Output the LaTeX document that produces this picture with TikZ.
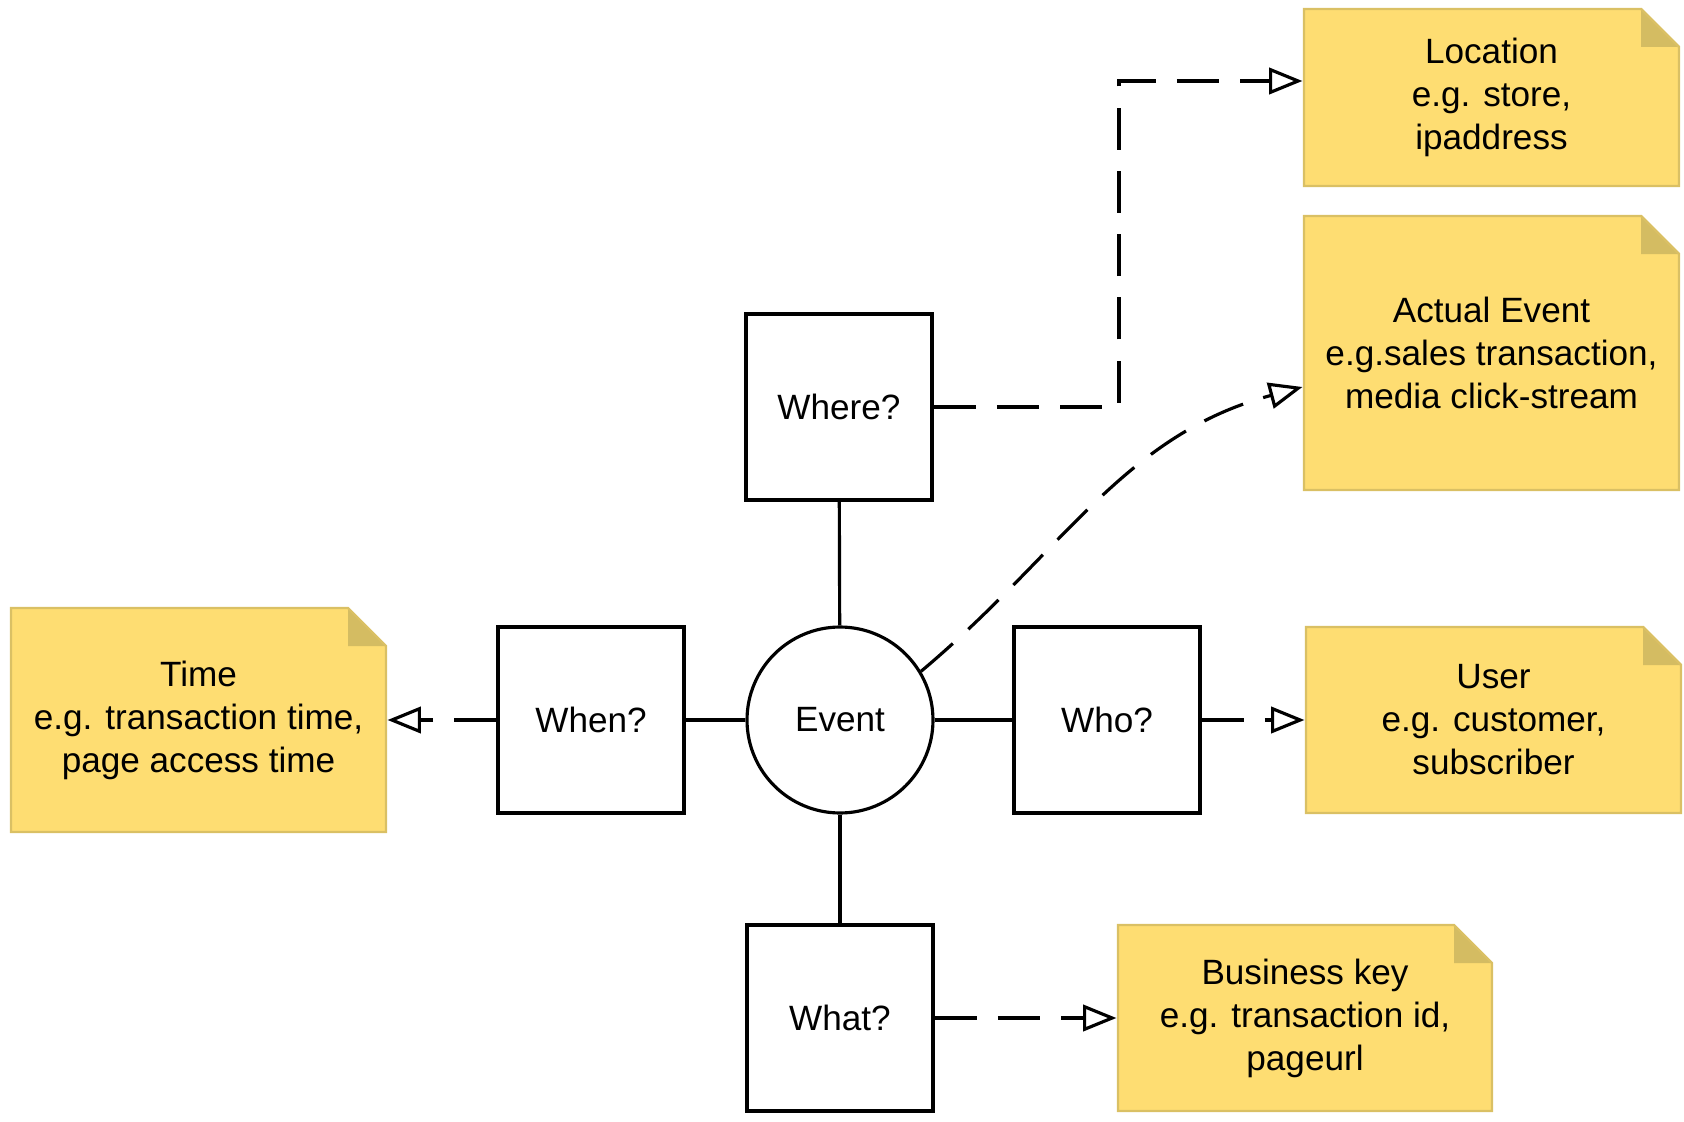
\documentclass[tikz,border=0pt]{standalone}
\usepackage{fontspec}
\setmainfont{Liberation Sans}
\usetikzlibrary{arrows.meta}
\definecolor{notefill}{RGB}{254,221,114}
\definecolor{noteedge}{RGB}{218,192,100}
\definecolor{notefold}{RGB}{212,188,98}
% note: name, x1, y1, x2, y2, text
\newcommand{\notebox}[6]{%
  \fill[notefill] (#2,#3) -- ({#4-38},#3) -- (#4,{#3+38}) -- (#4,#5) -- (#2,#5) -- cycle;
  \fill[notefold] ({#4-38},#3) -- ({#4-38},{#3+38}) -- (#4,{#3+38}) -- cycle;
  \draw[noteedge, line width=1.4pt] (#2,#3) -- ({#4-38},#3) -- (#4,{#3+38}) -- (#4,#5) -- (#2,#5) -- cycle;
  \node[notetext, minimum width={(#4-#2)*0.02cm}, minimum height={(#5-#3)*0.02cm}]
    (#1) at ({(#2+#4)/2},{(#3+#5)/2}) {#6};
}
\begin{document}
\begin{tikzpicture}[x=0.02cm, y=-0.02cm, line width=1.8pt,
    font=\fontsize{20pt}{24.5pt}\selectfont,
    box/.style={draw, minimum size=3.72cm, inner sep=0pt},
    notetext/.style={inner sep=0pt, align=center},
    link/.style={dash pattern=on 24pt off 12pt, -{Triangle[open, length=19pt, width=15pt]}}]
  \useasboundingbox (0,0) rectangle (1684,1122);

  \node[box] (where) at (839,407) {Where?};
  \node[box] (when) at (591,720) {When?};
  \node[draw, circle, minimum size=3.72cm, inner sep=0pt] (event) at (840,720) {Event};
  \node[box] (who) at (1107,720) {Who?};
  \node[box] (what) at (840,1018) {What?};

  \notebox{location}{1304}{9}{1679}{186}{Location\\e.g. store,\\ipaddress}
  \notebox{actual}{1304}{216}{1679}{490}{Actual Event\\e.g.sales transaction,\\media click-stream}
  \notebox{time}{11}{608}{386}{832}{Time\\e.g. transaction time,\\page access time}
  \notebox{user}{1306}{627}{1681}{813}{User\\e.g. customer,\\subscriber}
  \notebox{key}{1118}{925}{1492}{1111}{Business key\\e.g. transaction id,\\pageurl}

  \draw (where) -- (event);
  \draw (when) -- (event);
  \draw (event) -- (who);
  \draw (event) -- (what);

  \coordinate (bend) at (1119,81);
  \draw[link] (where.east) -| (bend) -- (location.west |- bend);
  \draw[link] (event.31) to[out=40, in=195] ([yshift=-0.68cm]actual.west);
  \draw[link] (when.west) -- (time.east);
  \draw[link] (who.east) -- (user.west);
  \draw[link] (what.east) -- (key.west);
\end{tikzpicture}
\end{document}
